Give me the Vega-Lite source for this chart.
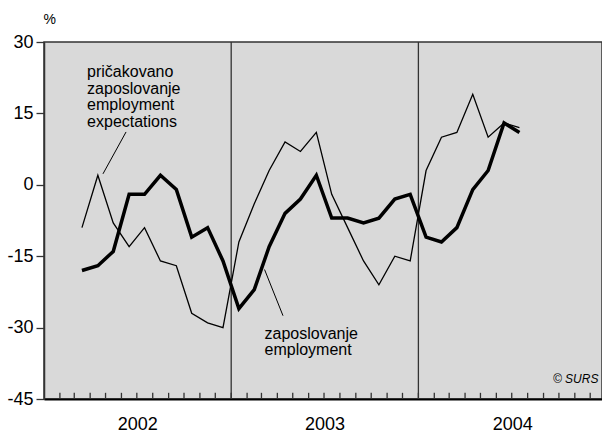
{
  "$schema": "https://vega.github.io/schema/vega-lite/v6.json",
  "width": 558,
  "height": 357,
  "autosize": {"type": "none"},
  "padding": {"left": 44, "top": 42, "right": 0, "bottom": 36},
  "background": "white",
  "config": {
    "font": "Liberation Sans",
    "view": {"fill": "#d9d9d9", "stroke": "#333333", "strokeWidth": 1.5}
  },
  "datasets": {
    "emp": [
      {"date": "2002-03-16", "value": -18}, {"date": "2002-04-16", "value": -17}, {"date": "2002-05-16", "value": -14},
      {"date": "2002-06-16", "value": -2}, {"date": "2002-07-16", "value": -2}, {"date": "2002-08-16", "value": 2},
      {"date": "2002-09-16", "value": -1}, {"date": "2002-10-16", "value": -11}, {"date": "2002-11-16", "value": -9},
      {"date": "2002-12-16", "value": -16}, {"date": "2003-01-16", "value": -26}, {"date": "2003-02-15", "value": -22},
      {"date": "2003-03-16", "value": -13}, {"date": "2003-04-16", "value": -6}, {"date": "2003-05-16", "value": -3},
      {"date": "2003-06-16", "value": 2}, {"date": "2003-07-16", "value": -7}, {"date": "2003-08-16", "value": -7},
      {"date": "2003-09-16", "value": -8}, {"date": "2003-10-16", "value": -7}, {"date": "2003-11-16", "value": -3},
      {"date": "2003-12-16", "value": -2}, {"date": "2004-01-16", "value": -11}, {"date": "2004-02-15", "value": -12},
      {"date": "2004-03-16", "value": -9}, {"date": "2004-04-16", "value": -1}, {"date": "2004-05-16", "value": 3},
      {"date": "2004-06-16", "value": 13}, {"date": "2004-07-16", "value": 11}
    ],
    "exp": [
      {"date": "2002-03-16", "value": -9}, {"date": "2002-04-16", "value": 2}, {"date": "2002-05-16", "value": -8},
      {"date": "2002-06-16", "value": -13}, {"date": "2002-07-16", "value": -9}, {"date": "2002-08-16", "value": -16},
      {"date": "2002-09-16", "value": -17}, {"date": "2002-10-16", "value": -27}, {"date": "2002-11-16", "value": -29},
      {"date": "2002-12-16", "value": -30}, {"date": "2003-01-16", "value": -12}, {"date": "2003-02-15", "value": -4},
      {"date": "2003-03-16", "value": 3}, {"date": "2003-04-16", "value": 9}, {"date": "2003-05-16", "value": 7},
      {"date": "2003-06-16", "value": 11}, {"date": "2003-07-16", "value": -2}, {"date": "2003-08-16", "value": -9},
      {"date": "2003-09-16", "value": -16}, {"date": "2003-10-16", "value": -21}, {"date": "2003-11-16", "value": -15},
      {"date": "2003-12-16", "value": -16}, {"date": "2004-01-16", "value": 3}, {"date": "2004-02-15", "value": 10},
      {"date": "2004-03-16", "value": 11}, {"date": "2004-04-16", "value": 19}, {"date": "2004-05-16", "value": 10},
      {"date": "2004-06-16", "value": 13}, {"date": "2004-07-16", "value": 12}
    ],
    "years": [{"date": "2003-01-01"}, {"date": "2004-01-01"}],
    "months": [
      {"date": "2002-02-01"}, {"date": "2002-03-01"}, {"date": "2002-04-01"}, {"date": "2002-05-01"}, {"date": "2002-06-01"}, {"date": "2002-07-01"},
      {"date": "2002-08-01"}, {"date": "2002-09-01"}, {"date": "2002-10-01"}, {"date": "2002-11-01"}, {"date": "2002-12-01"}, {"date": "2003-01-01"},
      {"date": "2003-02-01"}, {"date": "2003-03-01"}, {"date": "2003-04-01"}, {"date": "2003-05-01"}, {"date": "2003-06-01"}, {"date": "2003-07-01"},
      {"date": "2003-08-01"}, {"date": "2003-09-01"}, {"date": "2003-10-01"}, {"date": "2003-11-01"}, {"date": "2003-12-01"}, {"date": "2004-01-01"},
      {"date": "2004-02-01"}, {"date": "2004-03-01"}, {"date": "2004-04-01"}, {"date": "2004-05-01"}, {"date": "2004-06-01"}, {"date": "2004-07-01"},
      {"date": "2004-08-01"}, {"date": "2004-09-01"}, {"date": "2004-10-01"}, {"date": "2004-11-01"}, {"date": "2004-12-01"}
    ]
  },
  "layer": [
    {
      "data": {"name": "years"},
      "mark": {"type": "rule", "color": "#333333", "strokeWidth": 1.3},
      "encoding": {
        "x": {
          "field": "date", "type": "temporal",
          "scale": {"type": "utc", "domain": [{"year": 2002, "month": 1, "date": 1, "utc": true}, {"year": 2004, "month": 12, "date": 24, "utc": true}]},
          "axis": {
            "title": null, "grid": false, "ticks": false,
            "values": [
              {"year": 2002, "month": 7, "date": 2, "utc": true},
              {"year": 2003, "month": 7, "date": 2, "utc": true},
              {"year": 2004, "month": 7, "date": 2, "utc": true}
            ],
            "domainColor": "#000000", "domainWidth": 2,
            "labelFontSize": 18, "labelColor": "#000000", "labelPadding": 16,
            "labelExpr": "utcFormat(datum.value, '%Y')",
            "labelOverlap": false, "labelFlush": false
          }
        }
      }
    },
    {
      "data": {"name": "months"},
      "mark": {"type": "rule", "color": "#333333", "strokeWidth": 1.3},
      "encoding": {
        "x": {"field": "date", "type": "temporal"},
        "y": {"datum": -45, "type": "quantitative"},
        "y2": {"datum": -43.7}
      }
    },
    {
      "data": {"name": "exp"},
      "mark": {"type": "line", "color": "#000000", "strokeWidth": 1.3},
      "encoding": {
        "x": {"field": "date", "type": "temporal", "title": null},
        "y": {
          "field": "value", "type": "quantitative",
          "scale": {"domain": [-45, 30], "nice": false, "zero": false},
          "axis": {
            "values": [-45, -30, -15, 0, 15, 30],
            "grid": false, "tickSize": 8, "tickColor": "#333333", "tickWidth": 1.3,
            "domainColor": "#333333", "domainWidth": 1.5,
            "labelFontSize": 18, "labelColor": "#000000", "labelPadding": 3,
            "labelExpr": "datum.value + ''",
            "title": "%", "titleAngle": 0, "titleX": -1, "titleY": -19,
            "titleAlign": "left", "titleBaseline": "alphabetic",
            "titleFontSize": 14, "titleFontWeight": "normal", "titleColor": "#000000"
          }
        }
      }
    },
    {
      "data": {"name": "emp"},
      "mark": {"type": "line", "color": "#000000", "strokeWidth": 3.5},
      "encoding": {
        "x": {"field": "date", "type": "temporal"},
        "y": {"field": "value", "type": "quantitative"}
      }
    },
    {
      "data": {"values": [{"label": "pričakovano\nzaposlovanje\nemployment\nexpectations"}]},
      "mark": {"type": "text", "align": "left", "baseline": "alphabetic", "fontSize": 16, "lineHeight": 16.5, "lineBreak": "\n", "color": "#000000"},
      "encoding": {
        "x": {"datum": {"year": 2002, "month": 3, "date": 26, "utc": true}, "type": "temporal"},
        "y": {"datum": 22.6, "type": "quantitative"},
        "text": {"field": "label", "type": "nominal"}
      }
    },
    {
      "data": {"values": [{}]},
      "mark": {"type": "rule", "color": "#000000", "strokeWidth": 1},
      "encoding": {
        "x": {"datum": {"year": 2002, "month": 6, "date": 10, "utc": true}, "type": "temporal"},
        "y": {"datum": 11.1, "type": "quantitative"},
        "x2": {"datum": {"year": 2002, "month": 4, "date": 26, "utc": true}},
        "y2": {"datum": 2.3}
      }
    },
    {
      "data": {"values": [{"label": "zaposlovanje\nemployment"}]},
      "mark": {"type": "text", "align": "left", "baseline": "alphabetic", "fontSize": 16, "lineHeight": 16.5, "lineBreak": "\n", "color": "#000000"},
      "encoding": {
        "x": {"datum": {"year": 2003, "month": 3, "date": 7, "utc": true}, "type": "temporal"},
        "y": {"datum": -32.3, "type": "quantitative"},
        "text": {"field": "label", "type": "nominal"}
      }
    },
    {
      "data": {"values": [{}]},
      "mark": {"type": "rule", "color": "#000000", "strokeWidth": 1},
      "encoding": {
        "x": {"datum": {"year": 2003, "month": 3, "date": 7, "utc": true}, "type": "temporal"},
        "y": {"datum": -17.8, "type": "quantitative"},
        "x2": {"datum": {"year": 2003, "month": 4, "date": 12, "utc": true}},
        "y2": {"datum": -27.5}
      }
    },
    {
      "data": {"values": [{"label": "© SURS"}]},
      "mark": {"type": "text", "align": "right", "baseline": "middle", "fontSize": 12, "fontStyle": "italic", "color": "#000000"},
      "encoding": {
        "x": {"datum": {"year": 2004, "month": 12, "date": 17, "utc": true}, "type": "temporal"},
        "y": {"datum": -40.7, "type": "quantitative"},
        "text": {"field": "label", "type": "nominal"}
      }
    }
  ]
}
